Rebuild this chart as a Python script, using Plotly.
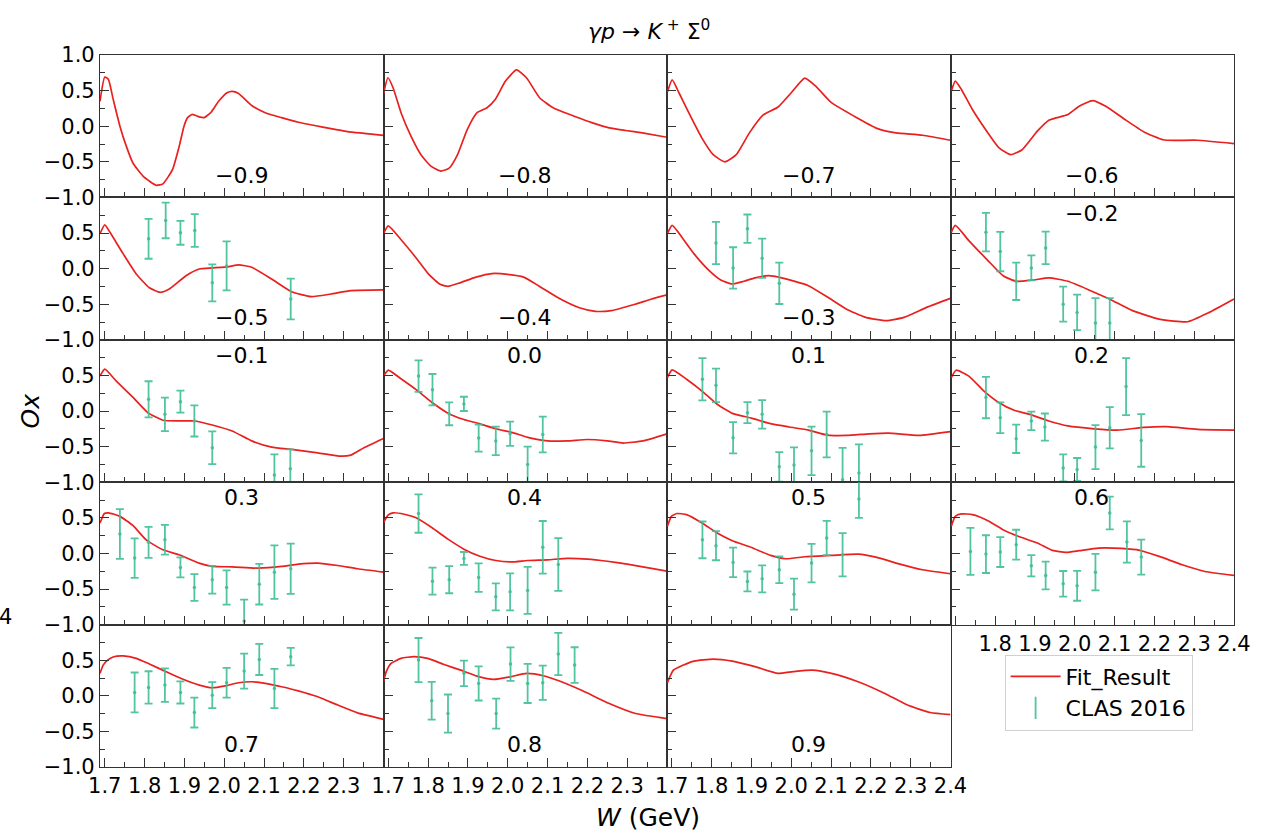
import plotly.graph_objects as go
from plotly.subplots import make_subplots

# ---------------- fit curves (W in GeV, Ox) ----------------
W_FIT_M09 = [1.688,1.700,1.709,1.721,1.738,1.754,1.771,1.796,1.829,1.846,1.870,1.887,1.899,1.908,1.920,1.937,1.949,1.966,1.986,2.007,2.020,2.036,2.069,2.103,2.144,2.186,2.227,2.268,2.310,2.351,2.400]
OX_FIT_M09 = [0.35,0.69,0.66,0.38,0.00,-0.28,-0.52,-0.70,-0.83,-0.81,-0.61,-0.28,0.00,0.12,0.165,0.13,0.12,0.19,0.35,0.47,0.49,0.46,0.29,0.19,0.12,0.056,0.01,-0.035,-0.075,-0.10,-0.13]

W_FIT_M08 = [1.688,1.699,1.712,1.732,1.757,1.782,1.807,1.832,1.853,1.874,1.898,1.923,1.948,1.969,1.994,2.022,2.047,2.080,2.114,2.172,2.213,2.255,2.296,2.338,2.400]
OX_FIT_M08 = [0.45,0.68,0.54,0.19,-0.14,-0.40,-0.56,-0.63,-0.59,-0.40,-0.05,0.19,0.26,0.38,0.63,0.79,0.68,0.40,0.26,0.13,0.047,-0.024,-0.06,-0.094,-0.155]

W_FIT_M07 = [1.689,1.701,1.718,1.747,1.775,1.804,1.833,1.862,1.895,1.929,1.967,2.000,2.034,2.062,2.101,2.158,2.215,2.263,2.330,2.400]
OX_FIT_M07 = [0.48,0.65,0.47,0.14,-0.16,-0.40,-0.50,-0.40,-0.094,0.155,0.27,0.47,0.676,0.56,0.33,0.14,-0.03,-0.094,-0.127,-0.197]

W_FIT_M06 = [1.690,1.700,1.715,1.743,1.782,1.810,1.839,1.868,1.906,1.935,1.983,2.011,2.045,2.078,2.126,2.174,2.222,2.250,2.307,2.400]
OX_FIT_M06 = [0.49,0.634,0.52,0.235,-0.094,-0.305,-0.40,-0.33,-0.07,0.084,0.164,0.28,0.36,0.28,0.094,-0.08,-0.19,-0.20,-0.197,-0.244]

W_FIT_M05 = [1.688,1.700,1.713,1.746,1.779,1.812,1.839,1.862,1.904,1.937,1.970,2.012,2.036,2.069,2.119,2.169,2.219,2.268,2.318,2.400]
OX_FIT_M05 = [0.49,0.615,0.51,0.21,-0.075,-0.27,-0.333,-0.286,-0.10,-0.005,0.009,0.028,0.052,0.019,-0.146,-0.324,-0.394,-0.357,-0.31,-0.30]

W_FIT_M04 = [1.688,1.700,1.730,1.770,1.800,1.830,1.850,1.880,1.920,1.960,2.000,2.040,2.080,2.130,2.180,2.220,2.260,2.320,2.360,2.400]
OX_FIT_M04 = [0.49,0.60,0.42,0.15,-0.07,-0.22,-0.25,-0.20,-0.12,-0.07,-0.08,-0.12,-0.25,-0.42,-0.55,-0.60,-0.59,-0.50,-0.43,-0.37]

W_FIT_M03 = [1.689,1.701,1.728,1.756,1.794,1.823,1.852,1.881,1.909,1.943,1.976,2.043,2.091,2.139,2.187,2.239,2.283,2.340,2.400]
OX_FIT_M03 = [0.49,0.606,0.42,0.207,-0.028,-0.16,-0.216,-0.178,-0.13,-0.10,-0.13,-0.24,-0.40,-0.57,-0.685,-0.73,-0.685,-0.545,-0.418]

W_FIT_M02 = [1.690,1.700,1.734,1.782,1.820,1.853,1.896,1.935,1.983,2.040,2.088,2.145,2.212,2.284,2.336,2.400]
OX_FIT_M02 = [0.51,0.606,0.394,0.113,-0.10,-0.178,-0.16,-0.13,-0.178,-0.31,-0.43,-0.59,-0.71,-0.746,-0.62,-0.427]

W_FIT_M01 = [1.688,1.700,1.729,1.771,1.808,1.846,1.887,1.928,1.970,2.020,2.069,2.119,2.169,2.235,2.293,2.318,2.351,2.400]
OX_FIT_M01 = [0.49,0.587,0.42,0.19,-0.023,-0.13,-0.14,-0.14,-0.197,-0.28,-0.42,-0.507,-0.54,-0.587,-0.634,-0.62,-0.516,-0.385]

W_FIT_P00 = [1.688,1.700,1.730,1.770,1.810,1.850,1.890,1.930,1.970,2.010,2.050,2.100,2.150,2.200,2.250,2.290,2.340,2.400]
OX_FIT_P00 = [0.49,0.575,0.46,0.30,0.12,-0.03,-0.12,-0.18,-0.25,-0.30,-0.37,-0.42,-0.42,-0.40,-0.42,-0.45,-0.42,-0.32]

W_FIT_P01 = [1.689,1.701,1.737,1.776,1.814,1.852,1.900,1.948,1.995,2.043,2.091,2.139,2.196,2.244,2.321,2.400]
OX_FIT_P01 = [0.47,0.577,0.446,0.28,0.094,-0.033,-0.10,-0.178,-0.225,-0.268,-0.338,-0.343,-0.32,-0.31,-0.343,-0.29]

W_FIT_P02 = [1.690,1.702,1.734,1.772,1.810,1.848,1.887,1.935,1.983,2.049,2.107,2.174,2.231,2.308,2.400]
OX_FIT_P02 = [0.47,0.573,0.49,0.28,0.117,0.01,-0.047,-0.14,-0.21,-0.25,-0.268,-0.23,-0.22,-0.258,-0.268]

W_FIT_P03 = [1.688,1.699,1.709,1.738,1.771,1.804,1.846,1.887,1.937,1.970,2.020,2.086,2.144,2.186,2.235,2.285,2.335,2.400]
OX_FIT_P03 = [0.427,0.56,0.57,0.52,0.39,0.19,0.05,-0.019,-0.136,-0.183,-0.188,-0.207,-0.183,-0.15,-0.136,-0.17,-0.216,-0.263]

W_FIT_P04 = [1.688,1.700,1.712,1.740,1.770,1.810,1.850,1.890,1.930,1.970,2.010,2.050,2.100,2.150,2.200,2.250,2.300,2.350,2.400]
OX_FIT_P04 = [0.43,0.54,0.57,0.55,0.50,0.36,0.20,0.06,-0.04,-0.10,-0.12,-0.10,-0.09,-0.07,-0.08,-0.11,-0.15,-0.20,-0.25]

W_FIT_P05 = [1.689,1.699,1.713,1.737,1.776,1.814,1.852,1.900,1.948,1.986,2.034,2.101,2.168,2.215,2.273,2.330,2.400]
OX_FIT_P05 = [0.38,0.52,0.56,0.545,0.427,0.286,0.178,0.084,-0.028,-0.075,-0.047,-0.028,-0.01,-0.056,-0.15,-0.23,-0.286]

W_FIT_P06 = [1.690,1.700,1.715,1.743,1.782,1.820,1.858,1.906,1.944,1.978,2.011,2.059,2.097,2.155,2.212,2.270,2.327,2.400]
OX_FIT_P06 = [0.38,0.52,0.554,0.545,0.46,0.333,0.24,0.146,0.042,0.014,0.038,0.075,0.075,0.052,-0.042,-0.16,-0.254,-0.31]

W_FIT_P07 = [1.688,1.696,1.705,1.721,1.746,1.779,1.812,1.854,1.895,1.937,1.970,2.003,2.036,2.069,2.103,2.144,2.186,2.235,2.285,2.335,2.400]
OX_FIT_P07 = [0.315,0.43,0.49,0.545,0.56,0.526,0.446,0.338,0.235,0.15,0.113,0.14,0.183,0.197,0.174,0.127,0.07,-0.014,-0.13,-0.24,-0.33]

W_FIT_P08 = [1.688,1.695,1.707,1.732,1.765,1.799,1.840,1.882,1.923,1.965,2.006,2.048,2.089,2.130,2.188,2.255,2.321,2.400]
OX_FIT_P08 = [0.197,0.34,0.455,0.526,0.55,0.526,0.44,0.36,0.277,0.23,0.267,0.315,0.282,0.207,0.07,-0.108,-0.249,-0.32]

W_FIT_P09 = [1.689,1.704,1.728,1.756,1.804,1.852,1.909,1.967,2.005,2.053,2.101,2.168,2.235,2.292,2.349,2.400]
OX_FIT_P09 = [0.183,0.36,0.43,0.488,0.516,0.488,0.41,0.315,0.34,0.36,0.315,0.197,0.033,-0.13,-0.235,-0.263]

# ---------------- CLAS 2016 data ----------------
W_DAT_M05 = [1.810,1.853,1.890,1.926,1.970,2.006,2.167]
OX_DAT_M05 = [0.418,0.676,0.502,0.535,-0.20,0.038,-0.427]
ER_DAT_M05 = [0.28,0.25,0.167,0.23,0.26,0.345,0.286]

W_DAT_M03 = [1.811,1.854,1.890,1.927,1.970]
OX_DAT_M03 = [0.36,0.01,0.56,0.146,-0.207]
ER_DAT_M03 = [0.296,0.29,0.2,0.275,0.29]

W_DAT_M02 = [1.777,1.813,1.853,1.891,1.927,1.971,2.006,2.052,2.088]
OX_DAT_M02 = [0.512,0.24,-0.178,0.01,0.29,-0.50,-0.615,-0.765,-0.765]
ER_DAT_M02 = [0.27,0.277,0.263,0.176,0.228,0.246,0.25,0.35,0.35]

W_DAT_M01 = [1.810,1.851,1.890,1.925,1.970,2.126,2.166]
OX_DAT_M01 = [0.164,-0.047,0.131,-0.14,-0.517,-0.90,-0.81]
ER_DAT_M01 = [0.254,0.235,0.155,0.218,0.23,0.29,0.27]

W_DAT_P00 = [1.776,1.811,1.853,1.890,1.927,1.970,2.006,2.050,2.088]
OX_DAT_P00 = [0.49,0.30,-0.04,0.10,-0.38,-0.42,-0.32,-0.75,-0.33]
ER_DAT_P00 = [0.22,0.22,0.16,0.10,0.19,0.20,0.17,0.25,0.25]

W_DAT_P01 = [1.777,1.811,1.854,1.890,1.927,1.970,2.007,2.051,2.089,2.129,2.170]
OX_DAT_P01 = [0.446,0.36,-0.376,-0.023,-0.047,-0.784,-0.76,-0.56,-0.33,-0.967,-0.87]
ER_DAT_P01 = [0.296,0.235,0.22,0.148,0.2,0.207,0.25,0.34,0.32,0.45,0.40]

W_DAT_P02 = [1.777,1.813,1.853,1.891,1.925,1.971,2.006,2.052,2.088,2.129,2.167]
OX_DAT_P02 = [0.188,-0.094,-0.39,-0.14,-0.225,-0.80,-0.82,-0.507,-0.235,0.343,-0.413]
ER_DAT_P02 = [0.29,0.216,0.2,0.13,0.19,0.19,0.16,0.31,0.29,0.40,0.37]

W_DAT_P03 = [1.738,1.775,1.810,1.851,1.890,1.925,1.970,2.006,2.050,2.088,2.126,2.167]
OX_DAT_P03 = [0.272,-0.066,0.155,0.192,-0.197,-0.479,-0.37,-0.479,-0.948,-0.432,-0.263,-0.216]
ER_DAT_P03 = [0.35,0.277,0.218,0.21,0.14,0.188,0.195,0.24,0.30,0.286,0.375,0.352]

W_DAT_P04 = [1.776,1.811,1.853,1.890,1.927,1.970,2.006,2.050,2.088,2.127]
OX_DAT_P04 = [0.56,-0.39,-0.37,-0.07,-0.34,-0.61,-0.54,-0.52,0.085,-0.155]
ER_DAT_P04 = [0.27,0.19,0.19,0.09,0.2,0.19,0.26,0.33,0.37,0.37]

W_DAT_P05 = [1.777,1.811,1.854,1.890,1.927,1.970,2.007,2.051,2.089,2.129,2.170]
OX_DAT_P05 = [0.19,0.108,-0.127,-0.394,-0.357,-0.23,-0.573,-0.136,0.216,-0.019,0.765]
ER_DAT_P05 = [0.258,0.204,0.207,0.14,0.19,0.188,0.218,0.27,0.24,0.305,0.267]

W_DAT_P06 = [1.738,1.777,1.813,1.853,1.891,1.927,1.971,2.006,2.052,2.088,2.131,2.167]
OX_DAT_P06 = [0.028,-0.01,0.019,0.122,-0.174,-0.31,-0.427,-0.455,-0.263,0.568,0.16,-0.052]
ER_DAT_P06 = [0.33,0.265,0.21,0.21,0.15,0.195,0.18,0.21,0.255,0.23,0.29,0.246]

W_DAT_P07 = [1.775,1.810,1.851,1.890,1.925,1.970,2.006,2.050,2.088,2.126,2.167]
OX_DAT_P07 = [0.047,0.117,0.15,0.047,-0.235,0.009,0.183,0.347,0.51,0.103,0.55]
ER_DAT_P07 = [0.28,0.228,0.235,0.155,0.21,0.183,0.21,0.246,0.218,0.275,0.122]

W_DAT_P08 = [1.776,1.809,1.850,1.890,1.927,1.971,2.007,2.050,2.088,2.127,2.168]
OX_DAT_P08 = [0.502,-0.07,-0.25,0.315,0.174,-0.25,0.446,0.174,0.183,0.587,0.432]
ER_DAT_P08 = [0.31,0.265,0.268,0.18,0.24,0.21,0.235,0.275,0.24,0.298,0.25]

# ---------------- panel labels (cos theta) ----------------
COS_LABELS = ["−0.9","−0.8","−0.7","−0.6","−0.5","−0.4","−0.3","−0.2","−0.1","0.0",
              "0.1","0.2","0.3","0.4","0.5","0.6","0.7","0.8","0.9"]
LOW, HIGH = -0.69, 0.78
LABEL_Y = [LOW, LOW, LOW, LOW, LOW, LOW, LOW, HIGH, HIGH, HIGH,
           HIGH, HIGH, HIGH, HIGH, HIGH, HIGH, LOW, LOW, LOW]

FITS = [(W_FIT_M09, OX_FIT_M09), (W_FIT_M08, OX_FIT_M08), (W_FIT_M07, OX_FIT_M07), (W_FIT_M06, OX_FIT_M06),
        (W_FIT_M05, OX_FIT_M05), (W_FIT_M04, OX_FIT_M04), (W_FIT_M03, OX_FIT_M03), (W_FIT_M02, OX_FIT_M02),
        (W_FIT_M01, OX_FIT_M01), (W_FIT_P00, OX_FIT_P00), (W_FIT_P01, OX_FIT_P01), (W_FIT_P02, OX_FIT_P02),
        (W_FIT_P03, OX_FIT_P03), (W_FIT_P04, OX_FIT_P04), (W_FIT_P05, OX_FIT_P05), (W_FIT_P06, OX_FIT_P06),
        (W_FIT_P07, OX_FIT_P07), (W_FIT_P08, OX_FIT_P08), (W_FIT_P09, OX_FIT_P09)]
DATA = [None, None, None, None,
        (W_DAT_M05, OX_DAT_M05, ER_DAT_M05), None, (W_DAT_M03, OX_DAT_M03, ER_DAT_M03), (W_DAT_M02, OX_DAT_M02, ER_DAT_M02),
        (W_DAT_M01, OX_DAT_M01, ER_DAT_M01), (W_DAT_P00, OX_DAT_P00, ER_DAT_P00), (W_DAT_P01, OX_DAT_P01, ER_DAT_P01), (W_DAT_P02, OX_DAT_P02, ER_DAT_P02),
        (W_DAT_P03, OX_DAT_P03, ER_DAT_P03), (W_DAT_P04, OX_DAT_P04, ER_DAT_P04), (W_DAT_P05, OX_DAT_P05, ER_DAT_P05), (W_DAT_P06, OX_DAT_P06, ER_DAT_P06),
        (W_DAT_P07, OX_DAT_P07, ER_DAT_P07), (W_DAT_P08, OX_DAT_P08, ER_DAT_P08), None]

X_TICKS = [1.7, 1.8, 1.9, 2.0, 2.1, 2.2, 2.3, 2.4]
X_TICK_TEXT = ["1.7", "1.8", "1.9", "2.0", "2.1", "2.2", "2.3", "2.4"]
Y_TICKS = [-1.0, -0.5, 0.0, 0.5, 1.0]
Y_TICK_TEXT = ["−1.0", "−0.5", "0.0", "0.5", "1.0"]

RED = "#e8211e"
TEAL = "rgba(64,190,152,0.9)"
FONT = "DejaVu Sans"
AX = "#333333"
TICK_SIZE = 21

fig = make_subplots(rows=5, cols=4, horizontal_spacing=0, vertical_spacing=0)

for i in range(19):
    r, c = i // 4 + 1, i % 4 + 1
    w, ox = FITS[i]
    fig.add_trace(go.Scatter(x=w, y=ox, mode="lines",
                             line=dict(color=RED, width=1.7, shape="spline", smoothing=0.5),
                             showlegend=False, hoverinfo="skip"), row=r, col=c)
    if DATA[i] is not None:
        dw, dox, der = DATA[i]
        fig.add_trace(go.Scatter(x=dw, y=dox, mode="markers",
                                 marker=dict(size=3.5, color=TEAL),
                                 error_y=dict(type="data", array=der, color=TEAL, thickness=1.8, width=4),
                                 showlegend=False), row=r, col=c)
    idx = (r - 1) * 4 + c
    xr = "x" if idx == 1 else f"x{idx}"
    yr = "y" if idx == 1 else f"y{idx}"
    fig.add_annotation(x=2.043, y=LABEL_Y[i], xref=xr, yref=yr, text=COS_LABELS[i],
                       showarrow=False, font=dict(size=22, family=FONT, color="black"),
                       xanchor="center", yanchor="middle")

# legend entries
fig.add_trace(go.Scatter(x=[None], y=[None], mode="lines", name="Fit_Result",
                         line=dict(color=RED, width=1.7)), row=5, col=4)
fig.add_trace(go.Scatter(x=[None], y=[None], mode="markers", name="CLAS 2016",
                         marker=dict(symbol="line-ns-open", size=18, color=TEAL,
                                     line=dict(width=1.8, color=TEAL))), row=5, col=4)

for r in range(1, 6):
    for c in range(1, 5):
        if r == 5 and c == 4:
            fig.update_xaxes(visible=False, range=[1.688, 2.4], row=r, col=c)
            fig.update_yaxes(visible=False, range=[-1, 1], row=r, col=c)
            continue
        show_x = (r == 5) or (r == 4 and c == 4)
        if r == 5 and c in (1, 2):
            xtext = X_TICK_TEXT[:-1] + [""]
        elif r == 4 and c == 4:
            xtext = [""] + X_TICK_TEXT[1:]
        else:
            xtext = X_TICK_TEXT
        fig.update_xaxes(range=[1.688, 2.4], tickmode="array", tickvals=X_TICKS, ticktext=xtext,
                         showticklabels=show_x, ticks="inside", ticklen=9, tickwidth=1.3, tickcolor=AX,
                         minor=dict(ticks="inside", ticklen=5, tickwidth=1.1, tickcolor=AX,
                                    tick0=1.7, dtick=0.05, showgrid=False),
                         showline=True, mirror=True, linecolor=AX, linewidth=1.2,
                         showgrid=False, zeroline=False,
                         tickfont=dict(size=TICK_SIZE, family=FONT, color="black"), row=r, col=c)
        ytext = Y_TICK_TEXT if r == 1 else Y_TICK_TEXT[:-1] + [""]
        fig.update_yaxes(range=[-1, 1], tickmode="array", tickvals=Y_TICKS, ticktext=ytext,
                         showticklabels=(c == 1), ticks="inside", ticklen=9, tickwidth=1.3, tickcolor=AX,
                         minor=dict(ticks="inside", ticklen=5, tickwidth=1.1, tickcolor=AX,
                                    tick0=0, dtick=0.25, showgrid=False),
                         showline=True, mirror=True, linecolor=AX, linewidth=1.2,
                         showgrid=False, zeroline=False,
                         tickfont=dict(size=TICK_SIZE, family=FONT, color="black"), row=r, col=c)

# titles and labels
fig.add_annotation(x=0.484, y=1.035, xref="paper", yref="paper", showarrow=False,
                   text="<i>γp</i> → <i>K</i><sup> +</sup> Σ<sup>0</sup>",
                   font=dict(size=22, family=FONT, color="black"), xanchor="center", yanchor="middle")
fig.add_annotation(x=-0.0613, y=0.5, xref="paper", yref="paper", showarrow=False,
                   text="<i>Ox</i>", textangle=-90,
                   font=dict(size=25, family=FONT, color="black"), xanchor="center", yanchor="middle")
fig.add_annotation(x=0.483, y=-0.0716, xref="paper", yref="paper", showarrow=False,
                   text="<i>W</i> (GeV)",
                   font=dict(size=25, family=FONT, color="black"), xanchor="center", yanchor="middle")
fig.add_annotation(x=-0.083, y=0.2107, xref="paper", yref="paper", showarrow=False,
                   text="4", font=dict(size=21, family=FONT, color="black"),
                   xanchor="center", yanchor="middle")

fig.update_layout(
    width=1263, height=833,
    margin=dict(l=100, r=21, t=55, b=66),
    paper_bgcolor="white", plot_bgcolor="white",
    font=dict(family=FONT, size=20, color="black"),
    showlegend=True,
    legend=dict(x=0.7977, y=0.158, xanchor="left", yanchor="top",
                bgcolor="white", bordercolor="#d0d0d0", borderwidth=1,
                font=dict(size=22, family=FONT, color="black"),
                itemwidth=50, tracegroupgap=6),
)

fig.write_html("out.html")
